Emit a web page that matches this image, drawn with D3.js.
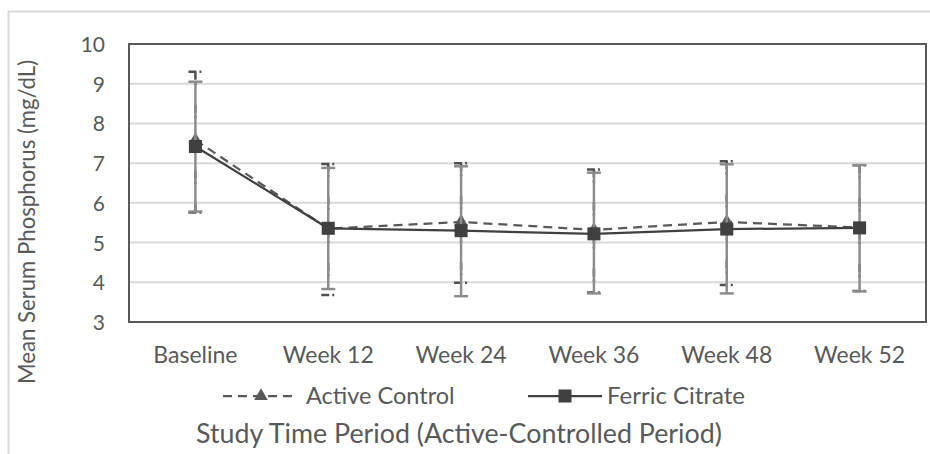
<!DOCTYPE html>
<html>
<head>
<meta charset="utf-8">
<script src="https://cdn.jsdelivr.net/npm/d3@7"></script>
<style>
  body { margin: 0; background: #fff; }
  text { font-family: Lato, "Open Sans", sans-serif; fill: #595959; }
</style>
</head>
<body>
<div id="chart"></div>
<script>
var categories = ["Baseline", "Week 12", "Week 24", "Week 36", "Week 48", "Week 52"];
var yTicks = [3, 4, 5, 6, 7, 8, 9, 10];

var activeMean  = [7.58, 5.35, 5.52, 5.32, 5.52, 5.38];
var activeUpper = [9.30, 6.98, 7.00, 6.84, 7.05, 6.95];
var activeLower = [5.76, 3.68, 3.99, 3.74, 3.93, 3.78];

var ferricMean  = [7.42, 5.36, 5.30, 5.22, 5.34, 5.37];
var ferricUpper = [9.05, 6.88, 6.92, 6.76, 6.97, 6.95];
var ferricLower = [5.78, 3.83, 3.65, 3.72, 3.72, 3.77];

var svg = d3.select("#chart").append("svg").attr("width", 930).attr("height", 454);

// outer chart frame
svg.append("rect").attr("x", 8.5).attr("y", 11.5).attr("width", 940).attr("height", 460)
  .attr("fill", "none").attr("stroke", "#d9d9d9").attr("stroke-width", 2);

var pLeft = 129, pRight = 926, pTop = 44, pBottom = 322;
var x = d3.scaleBand().domain(categories).range([pLeft, pRight]);
var y = d3.scaleLinear().domain([3, 10]).range([pBottom, pTop]);
var cx = function(i) { return x(categories[i]) + x.bandwidth() / 2; };

// gridlines
svg.append("g").selectAll("line").data(yTicks.slice(1, -1)).join("line")
  .attr("x1", pLeft).attr("x2", pRight)
  .attr("y1", function(d) { return y(d); }).attr("y2", function(d) { return y(d); })
  .attr("stroke", "#d9d9d9").attr("stroke-width", 2);

// y axis labels
var yAxis = svg.append("g").attr("transform", "translate(" + (pLeft - 24) + ",0)")
  .call(d3.axisLeft(y).tickValues(yTicks).tickFormat(d3.format("d")).tickSize(0).tickPadding(0));
yAxis.select(".domain").remove();
yAxis.selectAll("text").attr("font-size", 21).attr("dy", "0.36em").style("fill", "#595959")
  .style("font-family", "Lato, sans-serif");

// x axis labels
var xAxis = svg.append("g").attr("transform", "translate(0," + pBottom + ")")
  .call(d3.axisBottom(x).tickSize(0).tickPadding(0));
xAxis.select(".domain").remove();
xAxis.selectAll("text").attr("font-size", 23).attr("y", 41).attr("dy", 0).style("fill", "#595959")
  .style("font-family", "Lato, sans-serif");

// plot frame
svg.append("rect").attr("x", pLeft).attr("y", pTop).attr("width", pRight - pLeft).attr("height", pBottom - pTop)
  .attr("fill", "none").attr("stroke", "#595959").attr("stroke-width", 2);

function series(mean, upper, lower, opt) {
  var g = svg.append("g");
  var idx = d3.range(categories.length);
  g.selectAll(".eb").data(idx).join("line")
    .attr("x1", cx).attr("x2", cx)
    .attr("y1", function(i) { return y(upper[i]); }).attr("y2", function(i) { return y(lower[i]); })
    .attr("stroke", opt.ebColor).attr("stroke-width", 2.5).attr("stroke-dasharray", opt.ebDash);
  [upper, lower].forEach(function(arr) {
    g.append("g").selectAll("line").data(idx).join("line")
      .attr("x1", function(i) { return cx(i) - 7; }).attr("x2", function(i) { return cx(i) + 7; })
      .attr("y1", function(i) { return y(arr[i]); }).attr("y2", function(i) { return y(arr[i]); })
      .attr("stroke", opt.ebColor).attr("stroke-width", 2.5).attr("stroke-dasharray", opt.ebDash);
  });
  var line = d3.line().x(function(d, i) { return cx(i); }).y(function(d) { return y(d); });
  g.append("path").datum(mean).attr("d", line).attr("fill", "none")
    .attr("stroke", opt.color).attr("stroke-width", 2.25).attr("stroke-dasharray", opt.dash);
  g.append("g").selectAll("path").data(idx).join("path")
    .attr("transform", function(i) { return "translate(" + cx(i) + "," + y(mean[i]) + ")"; })
    .attr("d", d3.symbol().type(opt.symbol).size(opt.size))
    .attr("fill", opt.color);
}

var activeOpt = { color: "#595959", dash: "9,6", ebColor: "#505050", ebDash: "8,3,2,20", symbol: d3.symbolTriangle, size: 80 };
var ferricOpt = { color: "#404040", dash: null, ebColor: "#8c8c8c", ebDash: null, symbol: d3.symbolSquare, size: 170 };

series(activeMean, activeUpper, activeLower, activeOpt);
series(ferricMean, ferricUpper, ferricLower, ferricOpt);

// legend
var ly = 396;
var lg = svg.append("g");
lg.append("line").attr("x1", 223).attr("x2", 294).attr("y1", ly).attr("y2", ly)
  .attr("stroke", activeOpt.color).attr("stroke-width", 2.25).attr("stroke-dasharray", "9,6");
lg.append("path").attr("transform", "translate(261," + ly + ")")
  .attr("d", d3.symbol().type(d3.symbolTriangle).size(80)).attr("fill", activeOpt.color);
lg.append("text").attr("x", 306).attr("y", ly + 8).attr("font-size", 23.5).text("Active Control");
lg.append("line").attr("x1", 528).attr("x2", 602).attr("y1", ly).attr("y2", ly)
  .attr("stroke", ferricOpt.color).attr("stroke-width", 2.25);
lg.append("path").attr("transform", "translate(565," + ly + ")")
  .attr("d", d3.symbol().type(d3.symbolSquare).size(170)).attr("fill", ferricOpt.color);
lg.append("text").attr("x", 607).attr("y", ly + 8).attr("font-size", 24).text("Ferric Citrate");

// axis titles
svg.append("text").attr("x", 459).attr("y", 443).attr("text-anchor", "middle")
  .attr("font-size", 26.8).text("Study Time Period (Active-Controlled Period)");
svg.append("text").attr("transform", "translate(35,222) rotate(-90)").attr("text-anchor", "middle")
  .attr("font-size", 22.2).text("Mean Serum Phosphorus (mg/dL)");
</script>
</body>
</html>
